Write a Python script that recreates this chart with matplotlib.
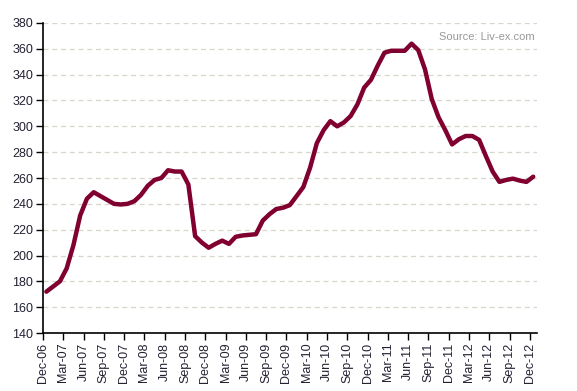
import matplotlib
matplotlib.use('Agg')
import matplotlib.pyplot as plt

# monthly index, Dec-06 .. Dec-12
values = [172, 176, 180, 190, 208, 231, 244, 249, 246, 243, 240, 239.5,
          240, 242, 247, 254, 258.5, 260, 266, 265, 265, 255, 215, 210,
          206, 209, 211.5, 209, 214.5, 215.5, 216, 216.5, 227, 232, 236, 237,
          239, 246, 253, 268, 287, 297, 304, 300, 303, 308, 317, 330,
          336, 347, 357, 358.5, 358.5, 358.5, 364, 359, 344, 321, 307, 297,
          286, 290, 292.5, 292.5, 289.5, 277, 265, 257, 258.5, 259.5, 258, 257,
          261]
tick_labels = ['Dec-06', 'Mar-07', 'Jun-07', 'Sep-07', 'Dec-07', 'Mar-08', 'Jun-08',
               'Sep-08', 'Dec-08', 'Mar-09', 'Jun-09', 'Sep-09', 'Dec-09', 'Mar-10',
               'Jun-10', 'Sep-10', 'Dec-10', 'Mar-11', 'Jun-11', 'Sep-11', 'Dec-11',
               'Mar-12', 'Jun-12', 'Sep-12', 'Dec-12']
y_ticks = list(range(140, 381, 20))

plt.rcParams['font.family'] = ['Liberation Sans', 'DejaVu Sans']

fig = plt.figure(figsize=(5.77, 3.91), dpi=100)
ax = fig.add_axes([0.0745, 0.1483, 0.8555, 0.7929])

x = [i + 0.5 for i in range(len(values))]
ax.plot(x, values, color='#800030', lw=3.2, solid_joinstyle='round',
        solid_capstyle='round', zorder=3)

ax.set_xlim(0, 73)
ax.set_ylim(140, 380)
ax.set_yticks(y_ticks)
ax.set_xticks([3 * k for k in range(len(tick_labels))])
ax.set_xticklabels(tick_labels, rotation=90)

ax.grid(axis='y', color='#d6d6cc', ls=(0, (4, 3)), lw=0.9)
ax.set_axisbelow(True)
for s in ['top', 'right']:
    ax.spines[s].set_visible(False)
ax.spines['left'].set_linewidth(1.2)
ax.spines['bottom'].set_linewidth(1.2)
ax.tick_params(direction='out', length=5, width=1, labelsize=9,
               labelcolor='#222233', pad=2)

ax.text(0.995, 0.955, 'Source: Liv-ex.com', transform=ax.transAxes,
        ha='right', va='center', fontsize=8, color='#999999')

fig.savefig('out.png', dpi=100)
